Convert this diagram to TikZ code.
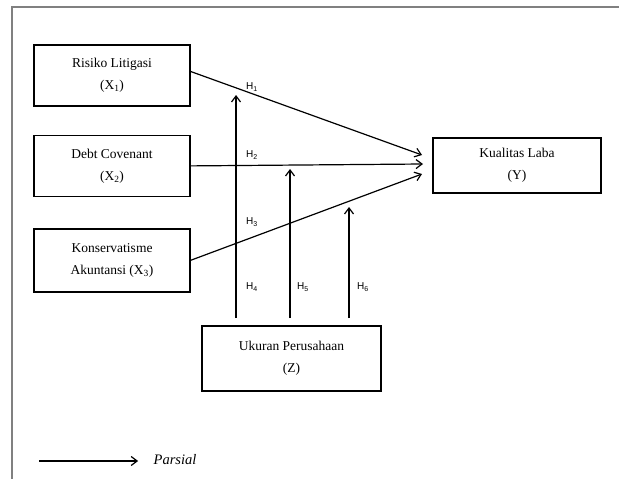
\documentclass[tikz,border=0pt]{standalone}
\usepackage{fontspec}
\setmainfont{Liberation Serif}
\newfontfamily\hfont{Liberation Sans}
\usetikzlibrary{positioning}
\usetikzlibrary{arrows.meta}

\begin{document}
\begin{tikzpicture}[x=1pt,y=-1pt,node distance=28pt,
    varbox/.style={draw,line width=1.4pt,minimum width=156pt,minimum height=61pt,
      align=center,inner sep=2pt,font=\fontsize{13.5}{22}\selectfont},
    hyp/.style={font=\hfont\fontsize{10}{12}\selectfont,inner sep=1pt},
    link/.style={line width=1.2pt,-{Straight Barb[length=6pt,width=9pt]}}]
    \useasboundingbox (0,0) rectangle (619,479);
    % Frame
    \draw[gray,line width=2pt] (619,7) -- (12,7) -- (12,479);

    % Place nodes
    \node[varbox] (x1) at (112,75.5) {Risiko Litigasi\\(X\textsubscript{1})};
    \node[varbox,below=of x1] (x2) {Debt Covenant\\(X\textsubscript{2})};
    \node[varbox,below=31pt of x2,minimum height=63pt] (x3) {Konservatisme\\Akuntansi (X\textsubscript{3})};
    \node[varbox,minimum width=168pt,minimum height=55pt] (y) at (517,165.5) {Kualitas Laba\\(Y)};
    \node[varbox,minimum width=179pt,minimum height=65pt] (z) at (291.5,358.5) {Ukuran Perusahaan\\(Z)};

    % Direct effects
    \coordinate (y1) at (422,155);
    \coordinate (y2) at (423,164);
    \coordinate (y3) at (422,174);
    \draw[link] ([yshift=4pt]x1.east) -- (y1);
    \draw[link] (x2.east) -- (y2);
    \draw[link] (x3.east) -- (y3);
    \node[hyp] (h1) at (252,87) {H\textsubscript{1}};
    \node[hyp] (h2) at (252,155) {H\textsubscript{2}};
    \node[hyp] (h3) at (252,222) {H\textsubscript{3}};

    % Moderation
    \foreach \x/\t/\lx/\n in {236/95/252/4, 290/169/303/5, 349/207/363/6}{
      \coordinate (m\n) at (\x,318);
      \coordinate (t\n) at (\x,\t);
      \draw[link] (m\n) -- (t\n);
      \node[hyp] (h\n) at (\lx,287) {H\textsubscript{\n}};
    }

    % Legend
    \coordinate (l0) at (39,461);
    \node[font=\itshape\fontsize{14.5}{16}\selectfont] (parsial) at (175,460) {Parsial};
    \draw[link,shorten >=12pt] (l0) -- (l0 -| parsial.west);
\end{tikzpicture}
\end{document}
